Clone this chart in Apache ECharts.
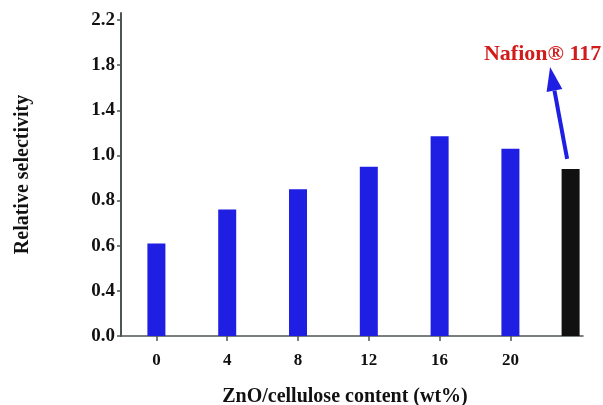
<!DOCTYPE html>
<html>
<head>
<meta charset="utf-8">
<script src="https://cdn.jsdelivr.net/npm/echarts@6/dist/echarts.min.js"></script>
<style>
  html, body { margin: 0; padding: 0; background: #fff; }
  #chart { width: 603px; height: 405px; }
</style>
</head>
<body>
<div id="chart"></div>
<script>
// ZnO/cellulose loadings (wt%) and their relative selectivity
const xCategories = [0, 4, 8, 12, 16, 20];
const selectivity = [0.61, 0.76, 0.85, 0.95, 1.17, 1.06];

// Nafion 117 reference membrane, drawn after the last loading
const nafionX = 23.4;
const nafionValue = 0.94;
const nafionLabel = 'Nafion® 117';

// Y tick labels, evenly spaced on the axis
const yTickLabels = ['0.0', '0.4', '0.6', '0.8', '1.0', '1.4', '1.8', '2.2'];

const FONT = '"Liberation Serif", "Times New Roman", serif';
const BLUE = '#1f1fe4';
const AXIS = '#4d5656';

// The tick labels are evenly spaced but not evenly valued, so values are
// placed piecewise-linearly between neighbouring ticks.
const tickVals = yTickLabels.map(parseFloat);
function toAxis(v) {
  for (let i = 0; i < tickVals.length - 1; i++) {
    if (v <= tickVals[i + 1]) {
      return i + (v - tickVals[i]) / (tickVals[i + 1] - tickVals[i]);
    }
  }
  return tickVals.length - 1;
}

const tickIdx = yTickLabels.map((_, i) => i);

const barData = xCategories.map((x, i) => ({ value: [x, toAxis(selectivity[i])] }));
barData.push({ value: [nafionX, toAxis(nafionValue)], itemStyle: { color: '#111111' } });

const chart = echarts.init(document.getElementById('chart'), null, { renderer: 'canvas' });

chart.setOption({
  backgroundColor: '#ffffff',
  animation: false,
  grid: { left: 121, right: 20, top: 13, bottom: 69, containLabel: false, outerBoundsMode: 'none' },
  xAxis: {
    type: 'value',
    min: -2,
    max: 24.1,
    name: 'ZnO/cellulose content (wt%)',
    nameLocation: 'middle',
    nameGap: 51,
    nameTextStyle: { fontFamily: FONT, fontWeight: 'bold', fontSize: 20, color: '#111', padding: [0, 14, 0, 0] },
    axisLine: { show: true, onZero: false, lineStyle: { color: AXIS, width: 1.5 } },
    axisTick: { show: true, length: 5, lineStyle: { color: AXIS, width: 1.5 }, customValues: xCategories },
    axisLabel: { margin: 16, fontFamily: FONT, fontWeight: 'bold', fontSize: 17, color: '#111', customValues: xCategories },
    splitLine: { show: false }
  },
  yAxis: {
    type: 'value',
    min: 0,
    max: 7.155,
    name: 'Relative selectivity',
    nameLocation: 'middle',
    nameRotate: 90,
    nameGap: 88,
    nameTextStyle: { fontFamily: FONT, fontWeight: 'bold', fontSize: 20, color: '#111' },
    axisLine: { show: true, onZero: false, lineStyle: { color: AXIS, width: 2 } },
    axisTick: { show: true, length: 4, lineStyle: { color: AXIS, width: 1.5 }, customValues: tickIdx },
    axisLabel: {
      margin: 6,
      fontFamily: FONT, fontWeight: 'bold', fontSize: 19, color: '#111',
      customValues: tickIdx,
      formatter: (v) => yTickLabels[Math.round(v)]
    },
    splitLine: { show: false }
  },
  series: [{
    type: 'bar',
    barWidth: 18,
    itemStyle: { color: BLUE },
    data: barData
  }]
});

// Annotation: arrow from the Nafion bar up to its label
const barTop = chart.convertToPixel({ gridIndex: 0 }, [nafionX, toAxis(nafionValue)]);
const arrowStart = [barTop[0] - 3.5, barTop[1] - 10];
const arrowTip = [barTop[0] - 20.5, barTop[1] - 102];
const dx = arrowTip[0] - arrowStart[0], dy = arrowTip[1] - arrowStart[1];
const len = Math.sqrt(dx * dx + dy * dy);
const ux = dx / len, uy = dy / len;
const headLen = 24, headHalf = 8;
const headBase = [arrowTip[0] - ux * headLen, arrowTip[1] - uy * headLen];
const nx = -uy, ny = ux;

chart.setOption({
  graphic: [
    {
      type: 'line',
      shape: { x1: arrowStart[0], y1: arrowStart[1], x2: headBase[0], y2: headBase[1] },
      style: { stroke: BLUE, lineWidth: 4 }
    },
    {
      type: 'polygon',
      shape: { points: [arrowTip, [headBase[0] + nx * headHalf, headBase[1] + ny * headHalf], [headBase[0] - nx * headHalf, headBase[1] - ny * headHalf]] },
      style: { fill: BLUE }
    },
    {
      type: 'text',
      x: arrowTip[0] - 7.5,
      y: arrowTip[1] - 13,
      style: {
        text: nafionLabel,
        font: 'bold 22px ' + FONT,
        fill: '#d21c1c',
        align: 'center',
        verticalAlign: 'middle'
      }
    }
  ]
});
</script>
</body>
</html>
